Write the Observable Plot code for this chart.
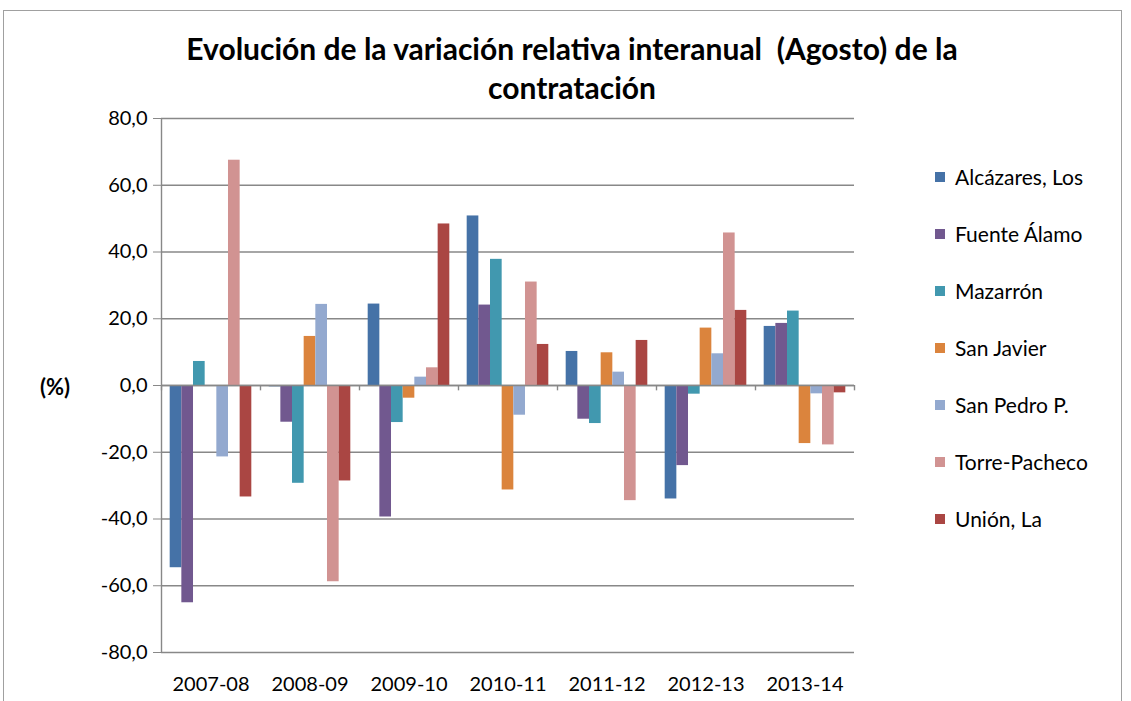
<!DOCTYPE html>
<html>
<head>
<meta charset="utf-8">
<script src="https://cdn.jsdelivr.net/npm/d3@7"></script>
<script src="https://cdn.jsdelivr.net/npm/@observablehq/plot@0.6"></script>
<style>
  body { margin: 0; background: #fff; font-family: Lato, "Open Sans", sans-serif; width: 1131px; height: 701px; overflow: hidden; position: relative; }
  #border { position: absolute; left: 3px; top: 10px; width: 1119px; height: 720px; border: 1.5px solid #a0a0a0; border-bottom: none; box-sizing: border-box; }
  #title { position: absolute; left: 0; top: 29px; width: 1144px; text-align: center; font-weight: bold; font-size: 30px; line-height: 39px; color: #000; }
  #chart { position: absolute; left: 0; top: 98px; }
  #ylab { position: absolute; left: 40px; top: 373px; font-weight: bold; font-size: 22px; }
  #legend { position: absolute; left: 935px; top: 148px; }
  .item { display: flex; align-items: center; height: 57px; font-size: 21px; }
  .sw { width: 10px; height: 10px; margin-right: 10px; }
  g[aria-label^="y-axis"] line, g[aria-label^="y-axis"] path { stroke: #888; }
</style>
</head>
<body>
<div id="border"></div>
<div id="title">Evolución de la variación relativa interanual&nbsp; (Agosto) de la<br>contratación</div>
<div id="ylab">(%)</div>
<div id="chart"></div>
<div id="legend"></div>
<script>
const periods = ["2007-08", "2008-09", "2009-10", "2010-11", "2011-12", "2012-13", "2013-14"];
const seriesNames = ["Alcázares, Los", "Fuente Álamo", "Mazarrón", "San Javier", "San Pedro P.", "Torre-Pacheco", "Unión, La"];
const seriesColors = ["#4572A7", "#71588F", "#4198AF", "#DB843D", "#93A9CF", "#D19392", "#AA4643"];

const alcazares    = [-54.6,  -0.4,  24.4,  50.8,  10.2, -34.0,  17.7];
const fuenteAlamo  = [-65.1, -11.0, -39.4,  24.1, -10.1, -24.0,  18.6];
const mazarron     = [  7.2, -29.3, -11.1,  37.8, -11.4,  -2.6,  22.3];
const sanJavier    = [  0.0,  14.7,  -3.8, -31.3,   9.8,  17.2, -17.4];
const sanPedro     = [-21.4,  24.3,   2.5,  -8.9,   4.0,   9.5,  -2.5];
const torrePacheco = [ 67.5, -58.8,   5.3,  31.0, -34.5,  45.7, -17.8];
const unionLa      = [-33.4, -28.6,  48.4,  12.3,  13.5,  22.5,  -2.2];

const yTicks = [-80, -60, -40, -20, 0, 20, 40, 60, 80];

const seriesValues = [alcazares, fuenteAlamo, mazarron, sanJavier, sanPedro, torrePacheco, unionLa];
const data = [];
periods.forEach((p, pi) => {
  seriesNames.forEach((s, si) => {
    data.push({period: p, series: s, idx: si, value: seriesValues[si][pi]});
  });
});

const groupPad = 0.745;
const xDomain = [-groupPad, seriesNames.length + groupPad];

const chart = Plot.plot({
  width: 880,
  height: 602,
  marginLeft: 160,
  marginRight: 25,
  marginTop: 20,
  marginBottom: 48,
  style: {fontFamily: "Lato, 'Open Sans', sans-serif", fontSize: "20px", color: "#000", background: "transparent"},
  fx: {domain: periods, padding: 0, axis: "bottom", label: null, tickSize: 0, tickPadding: 24},
  x: {type: "linear", domain: xDomain, axis: null},
  y: {domain: [-80, 80], ticks: yTicks, tickFormat: d => d.toFixed(1).replace(".", ","), label: null, tickSize: 8, tickPadding: 6},
  color: {domain: seriesNames, range: seriesColors},
  marks: [
    Plot.ruleY(yTicks, {stroke: "#888", strokeWidth: 1.4}),
    Plot.rectY(data, {fx: "period", x1: "idx", x2: d => d.idx + 1, y: "value", fill: "series"}),
    Plot.ruleY([0], {stroke: "#888", strokeWidth: 1.4}),
    Plot.ruleX([periods[0]], {fx: d => d, x: () => xDomain[0], y1: -80, y2: 80, stroke: "#888", strokeWidth: 1.4}),
    Plot.ruleX(periods, {fx: d => d, x: () => xDomain[0], y1: 0, y2: -1.6, stroke: "#888", strokeWidth: 1.4}),
    Plot.ruleX([periods[periods.length - 1]], {fx: d => d, x: () => xDomain[1], y1: 0, y2: -1.6, stroke: "#888", strokeWidth: 1.4})
  ]
});
document.getElementById("chart").appendChild(chart);

const legend = document.getElementById("legend");
seriesNames.forEach((s, i) => {
  const item = document.createElement("div");
  item.className = "item";
  const sw = document.createElement("div");
  sw.className = "sw";
  sw.style.background = seriesColors[i];
  const t = document.createElement("span");
  t.textContent = s;
  item.appendChild(sw);
  item.appendChild(t);
  legend.appendChild(item);
});
</script>
</body>
</html>
